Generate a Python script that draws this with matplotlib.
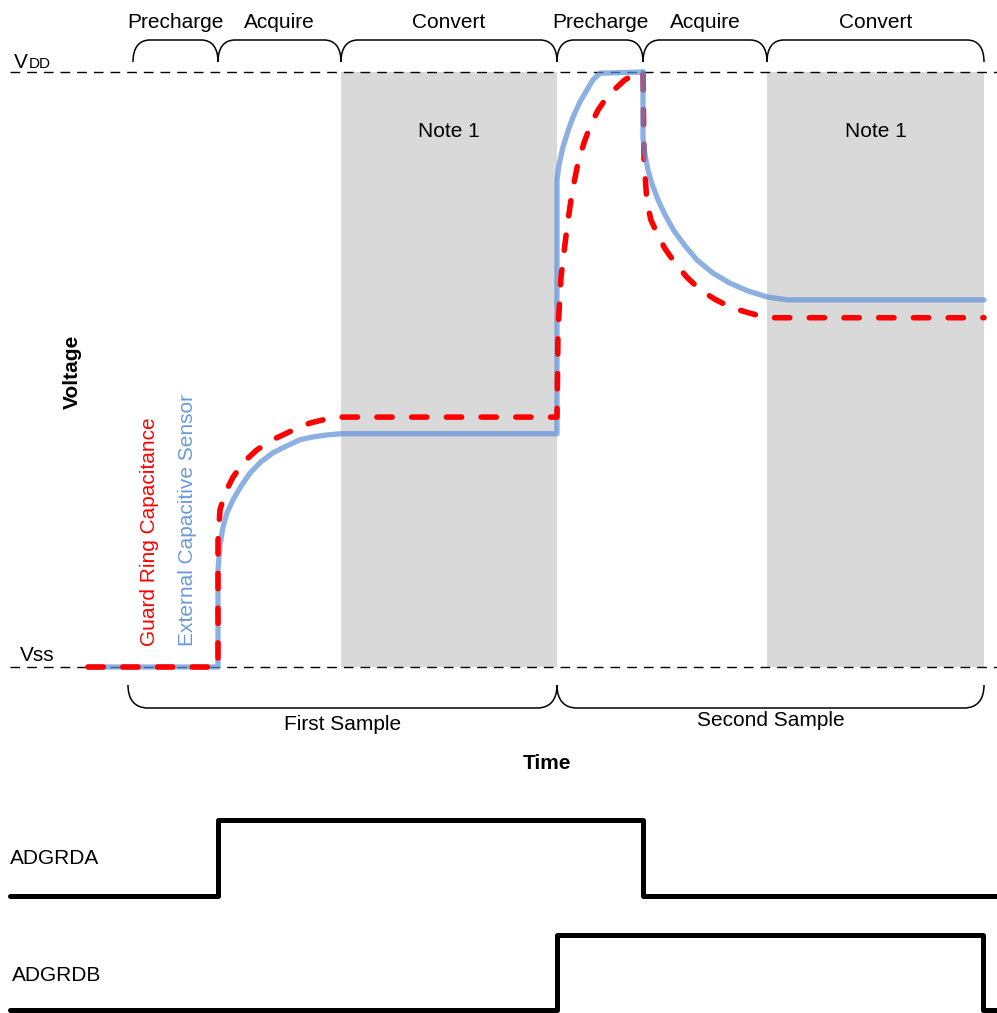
import matplotlib
matplotlib.use('Agg')
import matplotlib.pyplot as plt
from matplotlib.path import Path
from matplotlib.patches import PathPatch

plt.rcParams['font.family'] = ['Liberation Sans', 'DejaVu Sans']

W, H = 997, 1013

# timing (time axis in px-like units)
phase_edges = [133, 218, 341, 557, 643, 767, 984]
phase_names = ['Precharge', 'Acquire', 'Convert', 'Precharge', 'Acquire', 'Convert']
sample_edges = [128, 557, 984]
sample_names = ['First Sample', 'Second Sample']
convert_spans = [(341, 557), (767, 984)]

# external capacitive sensor, voltage 0 = Vss, 1 = Vdd
sensor_t_up = [88, 218, 218, 220, 223, 227, 233, 241, 250, 261, 273, 286, 300, 314, 327, 341,
               557, 557, 559, 563, 568, 573, 580, 587, 593, 600, 643]
sensor_v_up = [0.0, 0.0, 0.163, 0.205, 0.235, 0.259, 0.281, 0.304, 0.326, 0.345, 0.360, 0.371,
               0.382, 0.387, 0.390, 0.392, 0.392, 0.818, 0.844, 0.874, 0.901, 0.924, 0.950,
               0.970, 0.987, 0.998, 1.0]
sensor_t_down = [643, 643, 645, 648, 652, 658, 665, 674, 685, 697, 713, 730, 748, 767, 788, 984]
sensor_v_down = [1.0, 0.889, 0.861, 0.835, 0.812, 0.785, 0.760, 0.733, 0.708, 0.684, 0.662,
                 0.645, 0.632, 0.622, 0.617, 0.617]

# guard ring capacitance
guard_t = [88, 218, 218, 220, 225, 233, 244, 257, 274, 293, 310, 327, 342, 557,
           558, 561, 567, 572, 578, 584, 590, 598, 607, 616, 625, 634, 643,
           644, 647, 651, 657, 665, 675, 687, 700, 715, 730, 745, 760, 775, 984]
guard_v = [0.0, 0.0, 0.213, 0.264, 0.292, 0.319, 0.345, 0.365, 0.383, 0.398, 0.410, 0.417, 0.420, 0.420,
           0.566, 0.655, 0.739, 0.797, 0.847, 0.881, 0.908, 0.936, 0.958, 0.973, 0.987, 0.995, 1.0,
           0.852, 0.780, 0.751, 0.729, 0.703, 0.679, 0.655, 0.634, 0.618, 0.605, 0.597, 0.590, 0.587, 0.587]

# digital guard ring drive signals
adgrda_t = [10, 218, 218, 643, 643, 997]
adgrda_v = [0, 0, 1, 1, 0, 0]
adgrdb_t = [10, 557, 557, 983, 983, 997]
adgrdb_v = [0, 0, 1, 1, 0, 0]

blue = '#5b8fd6'
red = '#ff0000'
gray = '#d9d9d9'
FS = 15

fig = plt.figure(figsize=(W / 100, H / 100), dpi=100)


def px_axes(y_top, y_bot, ylim):
    a = fig.add_axes([0, 1 - y_bot / H, 1, (y_bot - y_top) / H])
    a.set_xlim(0, W)
    a.set_ylim(*ylim)
    a.axis('off')
    a.patch.set_alpha(0)
    return a


# background axes in pixel coords for annotations
ax_bg = fig.add_axes([0, 0, 1, 1])
ax_bg.set_xlim(0, W)
ax_bg.set_ylim(H, 0)
ax_bg.axis('off')

ax = px_axes(72, 667, (0, 1))
ax_a = px_axes(820, 896, (0, 1))
ax_b = px_axes(935, 1010, (0, 1))

for t0, t1 in convert_spans:
    ax.axvspan(t0, t1, color=gray, lw=0, zorder=0)
    ax.text((t0 + t1) / 2, 0.9, 'Note 1', fontsize=FS, ha='center', va='center')

for lvl in (0, 1):
    ax.plot([10, W], [lvl, lvl], color='black', lw=1.0, dashes=(7, 5), zorder=1, clip_on=False)

ax.plot(sensor_t_up, sensor_v_up, color=blue, alpha=0.7, lw=3.8, solid_capstyle='round',
        solid_joinstyle='round', zorder=2, clip_on=False)
ax.plot(guard_t, guard_v, color=red, lw=4.0, dashes=(2.75, 3.5), dash_capstyle='round',
        dash_joinstyle='round', zorder=3, clip_on=False)
ax.plot(sensor_t_down, sensor_v_down, color=blue, alpha=0.7, lw=3.8, solid_capstyle='round',
        solid_joinstyle='round', zorder=4, clip_on=False)

ax_a.plot(adgrda_t, adgrda_v, color='black', lw=3.6, solid_capstyle='round', clip_on=False)
ax_b.plot(adgrdb_t, adgrdb_v, color='black', lw=3.6, solid_capstyle='round', clip_on=False)


def brace(x0, x1, y_end, y_mid, r):
    verts = [(x0, y_end), (x0, y_end + (y_mid - y_end) * 0.65), (x0 + r * 0.35, y_mid), (x0 + r, y_mid),
             (x1 - r, y_mid),
             (x1 - r * 0.35, y_mid), (x1, y_end + (y_mid - y_end) * 0.65), (x1, y_end)]
    codes = [Path.MOVETO, Path.CURVE4, Path.CURVE4, Path.CURVE4, Path.LINETO,
             Path.CURVE4, Path.CURVE4, Path.CURVE4]
    ax_bg.add_patch(PathPatch(Path(verts, codes), fill=False, lw=1.1, color='black'))


for i, name in enumerate(phase_names):
    a, b = phase_edges[i], phase_edges[i + 1]
    brace(a, b, 62, 40, 17)
    ax_bg.text((a + b) / 2, 28, name, fontsize=FS, ha='center', va='baseline')

for i, name in enumerate(sample_names):
    a, b = sample_edges[i], sample_edges[i + 1]
    brace(a, b, 685, 708, 20)
    ax_bg.text((a + b) / 2, 724 - 4 * i, name, fontsize=FS, ha='center', va='center')

# supply labels
ax_bg.text(14, 68, 'V', fontsize=FS, ha='left', va='baseline')
ax_bg.text(29, 68, 'DD', fontsize=11, ha='left', va='baseline')
ax_bg.text(20, 661, 'Vss', fontsize=FS, ha='left', va='baseline')

ax_bg.text(72, 372, 'Voltage', fontsize=FS, fontweight='bold', rotation=90, ha='center', va='center')
ax_bg.text(547, 763, 'Time', fontsize=FS, fontweight='bold', ha='center', va='center')
ax_bg.text(149, 532, 'Guard Ring Capacitance', fontsize=FS, color=red, rotation=90,
           ha='center', va='center')
ax_bg.text(187, 520, 'External Capacitive Sensor', fontsize=FS, color='#6a9bd8', rotation=90,
           ha='center', va='center')

ax_bg.text(10, 858, 'ADGRDA', fontsize=FS, ha='left', va='center')
ax_bg.text(12, 975, 'ADGRDB', fontsize=FS, ha='left', va='center')

fig.savefig('out.png', dpi=100)
